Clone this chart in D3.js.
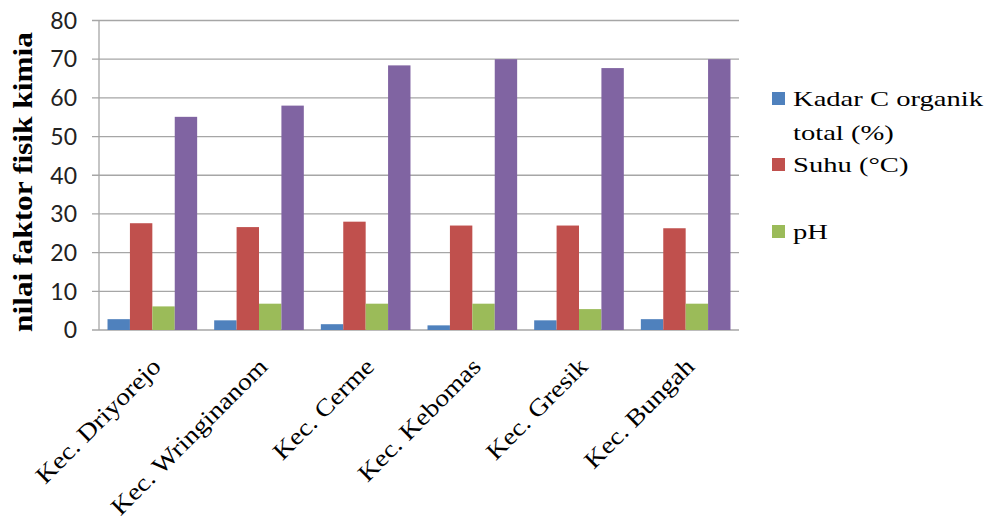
<!DOCTYPE html>
<html><head><meta charset="utf-8">
<script src="https://cdn.jsdelivr.net/npm/d3@7"></script>
<style>body{margin:0;background:#fff}svg{display:block}</style>
</head><body>
<svg id="c" width="990" height="521"></svg>
<script>
const categories = ["Kec. Driyorejo","Kec. Wringinanom","Kec. Cerme","Kec. Kebomas","Kec. Gresik","Kec. Bungah"];
const seriesNames = ["Kadar C organik total (%)","Suhu (°C)","pH","Kelembapan (%)"];
const kadarC = [2.8, 2.5, 1.5, 1.2, 2.5, 2.8];
const suhu = [27.6, 26.6, 28.0, 27.0, 27.0, 26.3];
const pH = [6.1, 6.8, 6.8, 6.8, 5.4, 6.8];
const kelembapan = [55.1, 58.0, 68.4, 70.0, 67.7, 70.0];
const yTicks = [0,10,20,30,40,50,60,70,80];
const colors = ["#4F81BD","#C0504D","#9BBB59","#8064A2"];
const seriesValues = [kadarC, suhu, pH, kelembapan];

const svg = d3.select("#c");
const L = 99, R = 739, T = 20.5, B = 330;
const serif = "'Liberation Serif','Times New Roman',serif";
const sans = "Lato,'Liberation Sans',sans-serif";

const x0 = d3.scaleBand().domain(categories).range([L, R]).paddingInner(0).paddingOuter(0);
const x1 = d3.scaleBand().domain(d3.range(4)).range([0, x0.bandwidth()]).paddingInner(0).paddingOuter(0.38);
const y = d3.scaleLinear().domain([0, 80]).range([B, T]);

// gridlines
svg.append("g").selectAll("line").data(yTicks).join("line")
  .attr("x1", L - 7).attr("x2", R).attr("y1", d => y(d)).attr("y2", d => y(d))
  .attr("stroke", "#a6a6a6").attr("stroke-width", 1.3);
// y axis line
svg.append("line").attr("x1", L).attr("x2", L).attr("y1", T).attr("y2", B)
  .attr("stroke", "#a6a6a6").attr("stroke-width", 1.3);

// bars
const g = svg.append("g");
categories.forEach((c, ci) => {
  seriesValues.forEach((arr, si) => {
    g.append("rect")
      .attr("x", x0(c) + x1(si))
      .attr("width", x1.bandwidth())
      .attr("y", y(arr[ci]))
      .attr("height", B - y(arr[ci]))
      .attr("fill", colors[si]);
  });
});

// y tick labels
svg.append("g").selectAll("text").data(yTicks).join("text")
  .attr("x", L - 22).attr("y", d => y(d)).attr("dy", "0.36em")
  .attr("text-anchor", "end").attr("font-family", sans).attr("font-size", 23)
  .attr("fill", "#222").text(d => d);

// x labels
svg.append("g").selectAll("text").data(categories).join("text")
  .attr("transform", d => `translate(${x0(d) + x0.bandwidth()/2 + 10},${B + 38}) rotate(-45) scale(1.15,1)`)
  .attr("text-anchor", "end").attr("font-family", serif).attr("font-size", 24)
  .attr("fill", "#000").text(d => d);

// y title
svg.append("text")
  .attr("transform", `translate(32,182) rotate(-90) scale(1.12,1)`)
  .attr("text-anchor", "middle").attr("font-family", serif).attr("font-size", 28)
  .attr("font-weight", "bold").attr("fill", "#000").text("nilai faktor fisik kimia");

// legend (first three series)
const leg = [
  {i:0, lines:["Kadar C organik","total (%)"], y:106},
  {i:1, lines:["Suhu (°C)"], y:172},
  {i:2, lines:["pH"], y:239}
];
leg.forEach(l => {
  svg.append("rect").attr("x", 772).attr("y", l.y - 14).attr("width", 13).attr("height", 13)
    .attr("fill", colors[l.i]);
  l.lines.forEach((t, k) => {
    svg.append("text").attr("transform", `translate(793,${l.y + k * 34}) scale(1.3,1)`)
      .attr("font-family", serif).attr("font-size", 22).attr("fill", "#000").text(t);
  });
});
</script>
</body></html>
